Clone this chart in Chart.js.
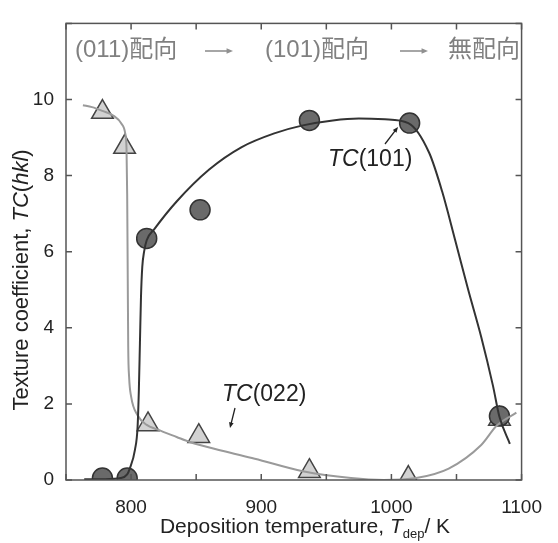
<!DOCTYPE html>
<html>
<head>
<meta charset="utf-8">
<script src="https://cdn.jsdelivr.net/npm/chart.js@4"></script>
<style>
  html, body { margin: 0; padding: 0; background: #fff; }
  #wrap { width: 558px; height: 543px; position: relative; }
</style>
</head>
<body>
<div id="wrap"><canvas id="tcChart"></canvas></div>
<script>
// measured points
const temp101 = [778, 797, 812, 853, 937, 1014, 1083];
const tc101 = [0.05, 0.05, 6.35, 7.1, 9.45, 9.38, 1.68];
const temp022 = [778, 795, 813, 852, 937, 1013, 1083];
const tc022 = [9.67, 8.75, 1.46, 1.15, 0.23, 0.05, 1.6];

// guide curves
const fit101X = [764, 780, 792, 797, 799, 803, 805, 806, 806.8, 807.6, 808.6, 810, 812, 818, 835, 860, 885, 910, 932, 955, 975, 995, 1013, 1029, 1039, 1049, 1059, 1069, 1078, 1083, 1091];
const fit101Y = [0.02, 0.02, 0.05, 0.15, 0.3, 0.8, 1.4, 2.4, 3.6, 4.8, 5.6, 6.0, 6.3, 6.6, 7.32, 8.16, 8.75, 9.11, 9.32, 9.45, 9.5, 9.48, 9.38, 8.6, 7.58, 6.3, 5.0, 3.76, 2.48, 1.66, 0.95];
const fit022X = [763, 770, 778, 786.6, 792.5, 795.5, 796.5, 797, 797.4, 797.8, 798.5, 800, 805, 812, 820, 835, 845, 870, 895, 932, 969, 994, 1019, 1044, 1069, 1081, 1096];
const fit022Y = [9.85, 9.8, 9.7, 9.57, 9.37, 9.11, 8.7, 7.5, 5.5, 3.5, 2.7, 2.2, 1.7, 1.45, 1.33, 1.13, 1.0, 0.77, 0.56, 0.23, 0.05, 0.0, 0.05, 0.3, 0.92, 1.43, 1.77];

const xTicks = [750, 800, 850, 900, 950, 1000, 1050, 1100];
const xLabels = [800, 900, 1000, 1100];
const yTicks = [0, 2, 4, 6, 8, 10, 12];
const yLabels = [0, 2, 4, 6, 8, 10];

const FONT = '"Liberation Sans", Arial, "Noto Sans CJK JP"';

function pts(xs, ys) {
  return xs.map((x, i) => ({ x: x, y: ys[i] }));
}

// draws frame, inward ticks, titles and annotations
const decor = {
  id: 'decor',
  afterDraw(chart) {
    const ctx = chart.ctx;
    const a = chart.chartArea;
    const xs = chart.scales.x, ys = chart.scales.y;
    ctx.save();
    ctx.strokeStyle = '#555';
    ctx.lineWidth = 1.5;
    ctx.strokeRect(a.left, a.top, a.right - a.left, a.bottom - a.top);
    ctx.beginPath();
    xTicks.forEach(v => {
      const px = xs.getPixelForValue(v);
      ctx.moveTo(px, a.bottom); ctx.lineTo(px, a.bottom - 6);
      ctx.moveTo(px, a.top); ctx.lineTo(px, a.top + 6);
    });
    yTicks.forEach(v => {
      const py = ys.getPixelForValue(v);
      ctx.moveTo(a.left, py); ctx.lineTo(a.left + 6, py);
      ctx.moveTo(a.right, py); ctx.lineTo(a.right - 6, py);
    });
    ctx.stroke();

    // x title
    ctx.fillStyle = '#222';
    ctx.textBaseline = 'alphabetic';
    ctx.textAlign = 'left';
    const parts = [
      ['Deposition temperature, ', '21px ' + FONT, 0],
      ['T', 'italic 21px ' + FONT, 0],
      ['dep', '13px ' + FONT, 5],
      ['/ K', '21px ' + FONT, 0]
    ];
    let w = 0;
    parts.forEach(p => { ctx.font = p[1]; w += ctx.measureText(p[0]).width; });
    let cx = 305 - w / 2;
    parts.forEach(p => {
      ctx.font = p[1];
      ctx.fillText(p[0], cx, 533 + p[2]);
      cx += ctx.measureText(p[0]).width;
    });

    // y title
    ctx.save();
    ctx.translate(28, 280);
    ctx.rotate(-Math.PI / 2);
    const yparts = [
      ['Texture coefficient, ', '22px ' + FONT],
      ['TC', 'italic 22px ' + FONT],
      ['(', '22px ' + FONT],
      ['hkl', 'italic 22px ' + FONT],
      [')', '22px ' + FONT]
    ];
    w = 0;
    yparts.forEach(p => { ctx.font = p[1]; w += ctx.measureText(p[0]).width; });
    cx = -w / 2;
    yparts.forEach(p => {
      ctx.font = p[1];
      ctx.fillText(p[0], cx, 0);
      cx += ctx.measureText(p[0]).width;
    });
    ctx.restore();

    // orientation sequence
    ctx.fillStyle = '#808080';
    ctx.font = '24px ' + FONT;
    ctx.textBaseline = 'middle';
    ctx.fillText('(011)配向', 75, 50);
    ctx.fillText('(101)配向', 265, 50);
    ctx.fillText('無配向', 448, 50);
    arrow(ctx, 205, 51, 233, 51, '#909090', 1.6, 7);
    arrow(ctx, 400, 51, 428, 51, '#909090', 1.6, 7);

    // series labels
    ctx.fillStyle = '#222';
    label(ctx, 'TC', '(101)', 328, 160);
    label(ctx, 'TC', '(022)', 222, 395);
    arrow(ctx, 385, 144, 398, 127, '#222', 1.3, 6);
    arrow(ctx, 235, 408, 230, 428, '#222', 1.3, 6);
    ctx.restore();
  }
};

function label(ctx, it, rest, x, y) {
  ctx.textBaseline = 'middle';
  ctx.font = 'italic 23px ' + FONT;
  ctx.fillText(it, x, y);
  const w = ctx.measureText(it).width;
  ctx.font = '23px ' + FONT;
  ctx.fillText(rest, x + w, y);
}

function arrow(ctx, x1, y1, x2, y2, color, lw, head) {
  const ang = Math.atan2(y2 - y1, x2 - x1);
  ctx.strokeStyle = color;
  ctx.fillStyle = color;
  ctx.lineWidth = lw;
  ctx.beginPath();
  ctx.moveTo(x1, y1);
  ctx.lineTo(x2 - Math.cos(ang) * head * 0.6, y2 - Math.sin(ang) * head * 0.6);
  ctx.stroke();
  ctx.beginPath();
  ctx.moveTo(x2, y2);
  ctx.lineTo(x2 - head * Math.cos(ang - 0.4), y2 - head * Math.sin(ang - 0.4));
  ctx.lineTo(x2 - head * Math.cos(ang + 0.4), y2 - head * Math.sin(ang + 0.4));
  ctx.closePath();
  ctx.fill();
}

const ctx = document.getElementById('tcChart').getContext('2d');

const tcChart = new Chart(ctx, {
  type: 'scatter',
  data: {
    datasets: [
      {
        label: 'TC(101) curve',
        data: pts(fit101X, fit101Y),
        showLine: true,
        borderColor: '#333',
        borderWidth: 2,
        pointRadius: 0,
        cubicInterpolationMode: 'monotone',
        order: 0
      },
      {
        label: 'TC(022) curve',
        data: pts(fit022X, fit022Y),
        showLine: true,
        borderColor: '#9a9a9a',
        borderWidth: 2,
        pointRadius: 0,
        cubicInterpolationMode: 'monotone',
        order: 0
      },
      {
        label: 'TC(101)',
        data: pts(temp101, tc101),
        pointStyle: 'circle',
        pointRadius: 10,
        backgroundColor: '#6a6a6a',
        borderColor: '#333',
        borderWidth: 1.5,
        order: 1
      },
      {
        label: 'TC(022)',
        data: pts(temp022, tc022),
        pointStyle: 'triangle',
        pointRadius: 12.5,
        backgroundColor: '#d2d2d2',
        borderColor: '#444',
        borderWidth: 1.5,
        order: 2
      }
    ]
  },
  options: {
    responsive: true,
    maintainAspectRatio: false,
    animation: false,
    events: [],
    layout: { padding: { top: 11, right: 23, left: 0, bottom: 0 } },
    plugins: {
      legend: { display: false },
      tooltip: { enabled: false }
    },
    scales: {
      x: {
        type: 'linear',
        min: 750,
        max: 1100,
        afterFit: s => { s.height = 63; },
        afterBuildTicks: s => { s.ticks = xTicks.map(v => ({ value: v })); },
        grid: { display: false, drawTicks: false },
        border: { display: false },
        ticks: {
          padding: 16,
          color: '#222',
          font: { family: FONT, size: 19 },
          callback: v => xLabels.includes(v) ? String(v) : ''
        }
      },
      y: {
        min: 0,
        max: 12,
        afterFit: s => { s.width = 66; },
        afterBuildTicks: s => { s.ticks = yTicks.map(v => ({ value: v })); },
        grid: { display: false, drawTicks: false },
        border: { display: false },
        ticks: {
          padding: 12,
          color: '#222',
          font: { family: FONT, size: 19 },
          callback: v => yLabels.includes(v) ? String(v) : ''
        }
      }
    }
  },
  plugins: [decor]
});
</script>
</body>
</html>
